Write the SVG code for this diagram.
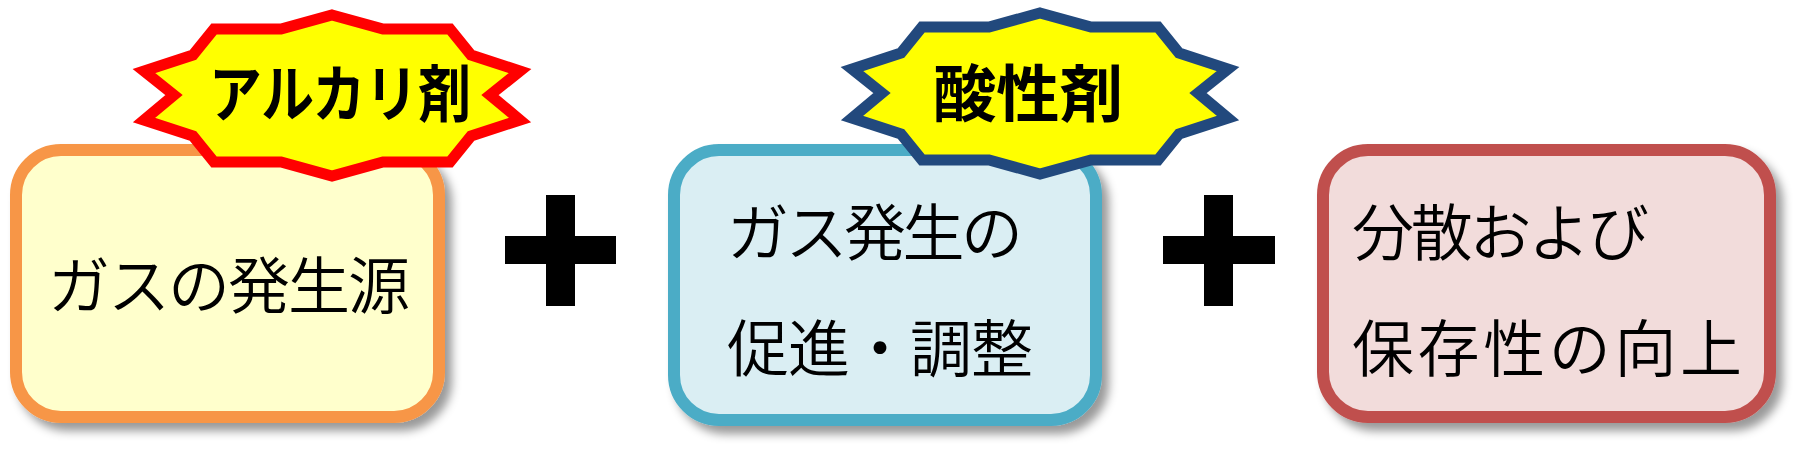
<svg xmlns="http://www.w3.org/2000/svg" width="1804" height="455" viewBox="0 0 1804 455">
<style>
.box{stroke-width:12;filter:url(#sh)}
.txt{font-family:"Noto Sans CJK JP","Noto Sans CJK SC",sans-serif;font-size:62px;font-weight:350;fill:#000}
.lbl{font-family:"Noto Sans CJK JP","Noto Sans CJK SC",sans-serif;font-size:62px;font-weight:bold;fill:#000;text-anchor:middle}
.star{fill:#FFFF00;stroke-width:11;stroke-linejoin:miter;stroke-miterlimit:10}
.plus{fill:#000}
</style>
<defs>
<filter id="sh" x="-10%" y="-10%" width="130%" height="130%">
<feDropShadow dx="7" dy="8" stdDeviation="5" flood-color="#000" flood-opacity="0.4"/>
</filter>
<polygon id="starshape" points="332,15 383,29 450,29 471,55 520,71 490,95 520,120 471,136 450,162 383,162 332,176 281,162 214,162 193,136 144,120 174,95 144,71 193,55 214,29 281,29"/>
</defs>
<rect width="1804" height="455" fill="#FFFFFF"/>
<g id="connectors">
<path class="plus" d="M546,195h29v41h41v28h-41v42h-29v-42h-41v-28h41z"/>
<path class="plus" d="M1204,195h29v41h42v28h-42v42h-29v-42h-41v-28h41z"/>
</g>
<g id="node-gas-source">
<rect class="box" x="16" y="150" width="423" height="267" rx="45" fill="#FFFFCC" stroke="#F79646"/>
<text class="txt" x="48" y="309" textLength="362" lengthAdjust="spacing">ガスの発生源</text>
</g>
<g id="node-gas-control">
<rect class="box" x="674" y="150" width="422" height="270" rx="45" fill="#DAEEF3" stroke="#4BACC6"/>
<text class="txt" x="727" y="256" textLength="296" lengthAdjust="spacing">ガス発生の</text>
<text class="txt" x="727" y="372" textLength="306" lengthAdjust="spacing">促進・調整</text>
</g>
<g id="node-dispersion">
<rect class="box" x="1323" y="150" width="447" height="267" rx="45" fill="#F2DCDB" stroke="#C0504D"/>
<text class="txt" x="1352" y="256" textLength="297" lengthAdjust="spacing">分散および</text>
<text class="txt" x="1352" y="372" textLength="390" lengthAdjust="spacing">保存性の向上</text>
</g>
<g id="node-alkali">
<use href="#starshape" class="star" stroke="#FF0000"/>
<text class="lbl" x="340" y="117" textLength="262" lengthAdjust="spacingAndGlyphs">アルカリ剤</text>
</g>
<g id="node-acid">
<use href="#starshape" class="star" stroke="#22497D" transform="translate(708,-2)"/>
<text class="lbl" x="1028" y="117" textLength="190" lengthAdjust="spacingAndGlyphs">酸性剤</text>
</g>
</svg>
